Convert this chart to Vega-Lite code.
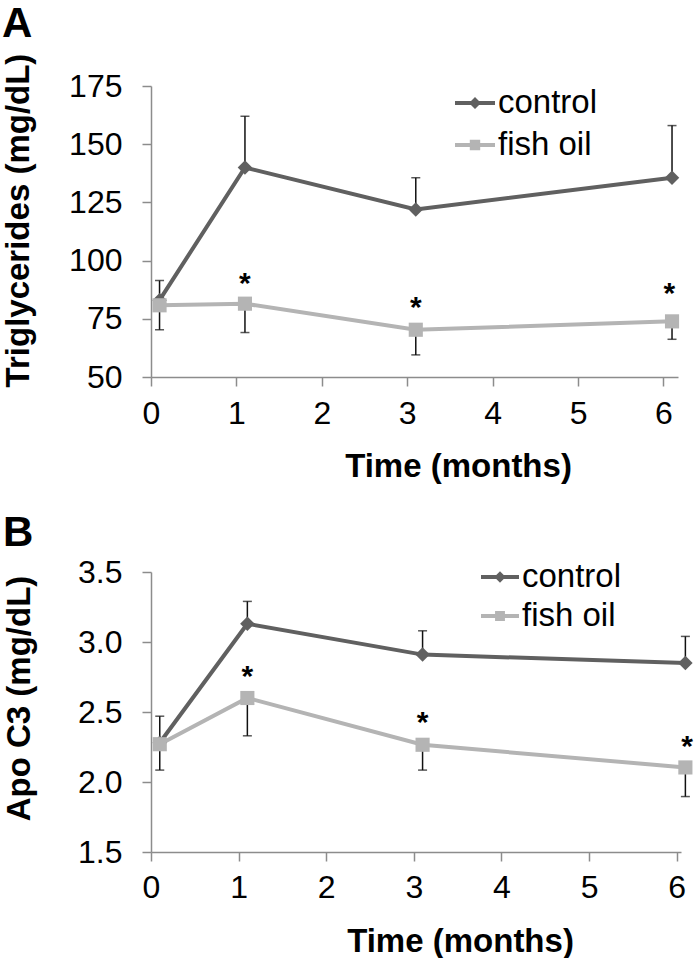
{
  "$schema": "https://vega.github.io/schema/vega-lite/v6.json",
  "padding": {"left": 2, "top": 3, "right": 0, "bottom": 0},
  "background": "white",
  "datasets": {
    "tg": [
      {"series": "control", "t": 0.1, "mean": 83, "err": 91.4},
      {"series": "control", "t": 1.1, "mean": 140, "err": 162},
      {"series": "control", "t": 3.1, "mean": 122, "err": 135.6},
      {"series": "control", "t": 6.1, "mean": 135.6, "err": 158},
      {"series": "fish oil", "t": 0.1, "mean": 80.8, "err": 70.3},
      {"series": "fish oil", "t": 1.1, "mean": 81.5, "err": 69.1},
      {"series": "fish oil", "t": 3.1, "mean": 70.3, "err": 59.5},
      {"series": "fish oil", "t": 6.1, "mean": 73.9, "err": 66.2}
    ],
    "tgStars": [
      {"t": 1.1, "y": 93.2},
      {"t": 3.1, "y": 83.2},
      {"t": 6.07, "y": 89.3}
    ],
    "apo": [
      {"series": "control", "t": 0.1, "mean": 2.28, "err": 2.47},
      {"series": "control", "t": 1.1, "mean": 3.13, "err": 3.29},
      {"series": "control", "t": 3.1, "mean": 2.91, "err": 3.08},
      {"series": "control", "t": 6.1, "mean": 2.85, "err": 3.04},
      {"series": "fish oil", "t": 0.1, "mean": 2.27, "err": 2.085},
      {"series": "fish oil", "t": 1.1, "mean": 2.6, "err": 2.33},
      {"series": "fish oil", "t": 3.1, "mean": 2.266, "err": 2.085},
      {"series": "fish oil", "t": 6.1, "mean": 2.104, "err": 1.896}
    ],
    "apoStars": [
      {"t": 1.1, "y": 2.806},
      {"t": 3.1, "y": 2.479},
      {"t": 6.12, "y": 2.308}
    ]
  },
  "config": {
    "font": "Liberation Sans",
    "view": {"stroke": null},
    "axis": {
      "grid": false,
      "domainColor": "#8c8c8c",
      "domainWidth": 1.5,
      "tickColor": "#8c8c8c",
      "tickWidth": 1.5,
      "tickSize": 9,
      "labelFont": "Liberation Sans",
      "labelFontSize": 32,
      "labelColor": "#000000",
      "labelFlush": false,
      "titleFont": "Liberation Sans",
      "titleFontSize": 33,
      "titleFontWeight": "bold",
      "titleColor": "#000000"
    },
    "title": {"fontSize": 42, "fontWeight": "bold", "font": "Liberation Sans", "anchor": "start", "frame": "bounds", "color": "#000000"},
    "legend": {
      "orient": "none",
      "title": null,
      "labelFont": "Liberation Sans",
      "labelFontSize": 33,
      "labelColor": "#000000",
      "labelOffset": 3,
      "padding": 0,
      "symbolStrokeWidth": 0
    }
  },
  "resolve": {"scale": {"color": "independent"}, "legend": {"color": "independent"}},
  "spacing": 29,
  "vconcat": [
    {
      "title": {"text": "A", "offset": -26, "baseline": "alphabetic"},
      "width": 527,
      "height": 291,
      "data": {"name": "tg"},
      "layer": [
        {
          "mark": {"type": "rule", "color": "#111111", "strokeWidth": 1.5},
          "encoding": {
            "x": {"field": "t", "type": "quantitative", "scale": {"domain": [0, 6.17], "nice": false, "zero": false}, "axis": {"values": [0, 1, 2, 3, 4, 5, 6], "format": "d", "title": "Time (months)", "titleX": 307, "titleY": 89, "titleBaseline": "middle", "titleAlign": "center", "labelPadding": 12}},
            "y": {"field": "mean", "type": "quantitative", "scale": {"domain": [50, 175], "nice": false, "zero": false}, "axis": {"values": [50, 75, 100, 125, 150, 175], "title": "Triglycerides (mg/dL)", "titleX": -133, "titleY": 134, "titleBaseline": "middle", "titleAlign": "center", "labelPadding": 20}},
            "y2": {"field": "err"}
          }
        },
        {
          "mark": {"type": "tick", "orient": "horizontal", "color": "#111111", "thickness": 1.5, "size": 9},
          "encoding": {
            "x": {"field": "t", "type": "quantitative", "scale": {"domain": [0, 6.17], "nice": false, "zero": false}, "axis": {"values": [0, 1, 2, 3, 4, 5, 6], "format": "d", "title": "Time (months)", "titleX": 307, "titleY": 89, "titleBaseline": "middle", "titleAlign": "center", "labelPadding": 12}},
            "y": {"field": "err", "type": "quantitative", "scale": {"domain": [50, 175], "nice": false, "zero": false}, "axis": {"values": [50, 75, 100, 125, 150, 175], "title": "Triglycerides (mg/dL)", "titleX": -133, "titleY": 134, "titleBaseline": "middle", "titleAlign": "center", "labelPadding": 20}}
          }
        },
        {
          "mark": {"type": "line", "strokeWidth": 4},
          "encoding": {
            "x": {"field": "t", "type": "quantitative", "scale": {"domain": [0, 6.17], "nice": false, "zero": false}, "axis": {"values": [0, 1, 2, 3, 4, 5, 6], "format": "d", "title": "Time (months)", "titleX": 307, "titleY": 89, "titleBaseline": "middle", "titleAlign": "center", "labelPadding": 12}},
            "y": {"field": "mean", "type": "quantitative", "scale": {"domain": [50, 175], "nice": false, "zero": false}, "axis": {"values": [50, 75, 100, 125, 150, 175], "title": "Triglycerides (mg/dL)", "titleX": -133, "titleY": 134, "titleBaseline": "middle", "titleAlign": "center", "labelPadding": 20}},
            "color": {
              "field": "series", "type": "nominal",
              "scale": {"domain": ["control", "fish oil"], "range": ["#606060", "#b4b4b4"]},
              "legend": {
                "legendX": 304, "legendY": -3, "symbolSize": 1600, "rowPadding": 5,
                "encode": {"symbols": {"update": {
                  "shape": {"signal": "datum.value === 'control' ? 'M-1,-0.1L1,-0.1L1,0.1L-1,0.1Z M0,-0.3L0.3,0L0,0.3L-0.3,0Z' : 'M-1,-0.1L1,-0.1L1,0.1L-1,0.1Z M-0.26,-0.26L0.26,-0.26L0.26,0.26L-0.26,0.26Z'"},
                  "fill": {"signal": "datum.value === 'control' ? '#606060' : '#b4b4b4'"},
                  "stroke": {"value": "transparent"},
                  "strokeWidth": {"value": 0},
                  "size": {"value": 1600},
                  "opacity": {"value": 1}
                }}}
              }
            }
          }
        },
        {
          "transform": [{"filter": "datum.series === 'control'"}],
          "mark": {"type": "point", "shape": "diamond", "filled": true, "opacity": 1, "size": 210, "color": "#606060"},
          "encoding": {
            "x": {"field": "t", "type": "quantitative", "scale": {"domain": [0, 6.17], "nice": false, "zero": false}, "axis": {"values": [0, 1, 2, 3, 4, 5, 6], "format": "d", "title": "Time (months)", "titleX": 307, "titleY": 89, "titleBaseline": "middle", "titleAlign": "center", "labelPadding": 12}},
            "y": {"field": "mean", "type": "quantitative", "scale": {"domain": [50, 175], "nice": false, "zero": false}, "axis": {"values": [50, 75, 100, 125, 150, 175], "title": "Triglycerides (mg/dL)", "titleX": -133, "titleY": 134, "titleBaseline": "middle", "titleAlign": "center", "labelPadding": 20}}
          }
        },
        {
          "transform": [{"filter": "datum.series === 'fish oil'"}],
          "mark": {"type": "point", "shape": "square", "filled": true, "opacity": 1, "size": 200, "color": "#b4b4b4"},
          "encoding": {
            "x": {"field": "t", "type": "quantitative", "scale": {"domain": [0, 6.17], "nice": false, "zero": false}, "axis": {"values": [0, 1, 2, 3, 4, 5, 6], "format": "d", "title": "Time (months)", "titleX": 307, "titleY": 89, "titleBaseline": "middle", "titleAlign": "center", "labelPadding": 12}},
            "y": {"field": "mean", "type": "quantitative", "scale": {"domain": [50, 175], "nice": false, "zero": false}, "axis": {"values": [50, 75, 100, 125, 150, 175], "title": "Triglycerides (mg/dL)", "titleX": -133, "titleY": 134, "titleBaseline": "middle", "titleAlign": "center", "labelPadding": 20}}
          }
        },
        {
          "data": {"name": "tgStars"},
          "mark": {"type": "text", "text": "*", "fontSize": 30, "fontWeight": "bold", "color": "#000000", "dy": 17, "baseline": "alphabetic"},
          "encoding": {
            "x": {"field": "t", "type": "quantitative", "scale": {"domain": [0, 6.17], "nice": false, "zero": false}, "axis": {"values": [0, 1, 2, 3, 4, 5, 6], "format": "d", "title": "Time (months)", "titleX": 307, "titleY": 89, "titleBaseline": "middle", "titleAlign": "center", "labelPadding": 12}},
            "y": {"field": "y", "type": "quantitative", "scale": {"domain": [50, 175], "nice": false, "zero": false}, "axis": {"values": [50, 75, 100, 125, 150, 175], "title": "Triglycerides (mg/dL)", "titleX": -133, "titleY": 134, "titleBaseline": "middle", "titleAlign": "center", "labelPadding": 20}}
          }
        }
      ]
    },
    {
      "title": {"text": "B", "offset": -32, "baseline": "alphabetic"},
      "width": 530,
      "height": 280,
      "data": {"name": "apo"},
      "layer": [
        {
          "mark": {"type": "rule", "color": "#111111", "strokeWidth": 1.5},
          "encoding": {
            "x": {"field": "t", "type": "quantitative", "scale": {"domain": [0, 6.05], "nice": false, "zero": false}, "axis": {"values": [0, 1, 2, 3, 4, 5, 6], "format": "d", "title": "Time (months)", "titleX": 309, "titleY": 89, "titleBaseline": "middle", "titleAlign": "center", "labelPadding": 11}},
            "y": {"field": "mean", "type": "quantitative", "scale": {"domain": [1.5, 3.5], "nice": false, "zero": false}, "axis": {"values": [1.5, 2, 2.5, 3, 3.5], "format": ".1f", "title": "Apo C3 (mg/dL)", "titleX": -132, "titleY": 126, "titleBaseline": "middle", "titleAlign": "center", "labelPadding": 20}},
            "y2": {"field": "err"}
          }
        },
        {
          "mark": {"type": "tick", "orient": "horizontal", "color": "#111111", "thickness": 1.5, "size": 9},
          "encoding": {
            "x": {"field": "t", "type": "quantitative", "scale": {"domain": [0, 6.05], "nice": false, "zero": false}, "axis": {"values": [0, 1, 2, 3, 4, 5, 6], "format": "d", "title": "Time (months)", "titleX": 309, "titleY": 89, "titleBaseline": "middle", "titleAlign": "center", "labelPadding": 11}},
            "y": {"field": "err", "type": "quantitative", "scale": {"domain": [1.5, 3.5], "nice": false, "zero": false}, "axis": {"values": [1.5, 2, 2.5, 3, 3.5], "format": ".1f", "title": "Apo C3 (mg/dL)", "titleX": -132, "titleY": 126, "titleBaseline": "middle", "titleAlign": "center", "labelPadding": 20}}
          }
        },
        {
          "mark": {"type": "line", "strokeWidth": 4},
          "encoding": {
            "x": {"field": "t", "type": "quantitative", "scale": {"domain": [0, 6.05], "nice": false, "zero": false}, "axis": {"values": [0, 1, 2, 3, 4, 5, 6], "format": "d", "title": "Time (months)", "titleX": 309, "titleY": 89, "titleBaseline": "middle", "titleAlign": "center", "labelPadding": 11}},
            "y": {"field": "mean", "type": "quantitative", "scale": {"domain": [1.5, 3.5], "nice": false, "zero": false}, "axis": {"values": [1.5, 2, 2.5, 3, 3.5], "format": ".1f", "title": "Apo C3 (mg/dL)", "titleX": -132, "titleY": 126, "titleBaseline": "middle", "titleAlign": "center", "labelPadding": 20}},
            "color": {
              "field": "series", "type": "nominal",
              "scale": {"domain": ["control", "fish oil"], "range": ["#606060", "#b4b4b4"]},
              "legend": {
                "legendX": 330, "legendY": -14, "symbolSize": 1444, "rowPadding": 3,
                "encode": {"symbols": {"update": {
                  "shape": {"signal": "datum.value === 'control' ? 'M-1,-0.1L1,-0.1L1,0.1L-1,0.1Z M0,-0.3L0.3,0L0,0.3L-0.3,0Z' : 'M-1,-0.1L1,-0.1L1,0.1L-1,0.1Z M-0.26,-0.26L0.26,-0.26L0.26,0.26L-0.26,0.26Z'"},
                  "fill": {"signal": "datum.value === 'control' ? '#606060' : '#b4b4b4'"},
                  "stroke": {"value": "transparent"},
                  "strokeWidth": {"value": 0},
                  "size": {"value": 1444},
                  "opacity": {"value": 1}
                }}}
              }
            }
          }
        },
        {
          "transform": [{"filter": "datum.series === 'control'"}],
          "mark": {"type": "point", "shape": "diamond", "filled": true, "opacity": 1, "size": 210, "color": "#606060"},
          "encoding": {
            "x": {"field": "t", "type": "quantitative", "scale": {"domain": [0, 6.05], "nice": false, "zero": false}, "axis": {"values": [0, 1, 2, 3, 4, 5, 6], "format": "d", "title": "Time (months)", "titleX": 309, "titleY": 89, "titleBaseline": "middle", "titleAlign": "center", "labelPadding": 11}},
            "y": {"field": "mean", "type": "quantitative", "scale": {"domain": [1.5, 3.5], "nice": false, "zero": false}, "axis": {"values": [1.5, 2, 2.5, 3, 3.5], "format": ".1f", "title": "Apo C3 (mg/dL)", "titleX": -132, "titleY": 126, "titleBaseline": "middle", "titleAlign": "center", "labelPadding": 20}}
          }
        },
        {
          "transform": [{"filter": "datum.series === 'fish oil'"}],
          "mark": {"type": "point", "shape": "square", "filled": true, "opacity": 1, "size": 200, "color": "#b4b4b4"},
          "encoding": {
            "x": {"field": "t", "type": "quantitative", "scale": {"domain": [0, 6.05], "nice": false, "zero": false}, "axis": {"values": [0, 1, 2, 3, 4, 5, 6], "format": "d", "title": "Time (months)", "titleX": 309, "titleY": 89, "titleBaseline": "middle", "titleAlign": "center", "labelPadding": 11}},
            "y": {"field": "mean", "type": "quantitative", "scale": {"domain": [1.5, 3.5], "nice": false, "zero": false}, "axis": {"values": [1.5, 2, 2.5, 3, 3.5], "format": ".1f", "title": "Apo C3 (mg/dL)", "titleX": -132, "titleY": 126, "titleBaseline": "middle", "titleAlign": "center", "labelPadding": 20}}
          }
        },
        {
          "data": {"name": "apoStars"},
          "mark": {"type": "text", "text": "*", "fontSize": 30, "fontWeight": "bold", "color": "#000000", "dy": 17, "baseline": "alphabetic"},
          "encoding": {
            "x": {"field": "t", "type": "quantitative", "scale": {"domain": [0, 6.05], "nice": false, "zero": false}, "axis": {"values": [0, 1, 2, 3, 4, 5, 6], "format": "d", "title": "Time (months)", "titleX": 309, "titleY": 89, "titleBaseline": "middle", "titleAlign": "center", "labelPadding": 11}},
            "y": {"field": "y", "type": "quantitative", "scale": {"domain": [1.5, 3.5], "nice": false, "zero": false}, "axis": {"values": [1.5, 2, 2.5, 3, 3.5], "format": ".1f", "title": "Apo C3 (mg/dL)", "titleX": -132, "titleY": 126, "titleBaseline": "middle", "titleAlign": "center", "labelPadding": 20}}
          }
        }
      ]
    }
  ]
}
